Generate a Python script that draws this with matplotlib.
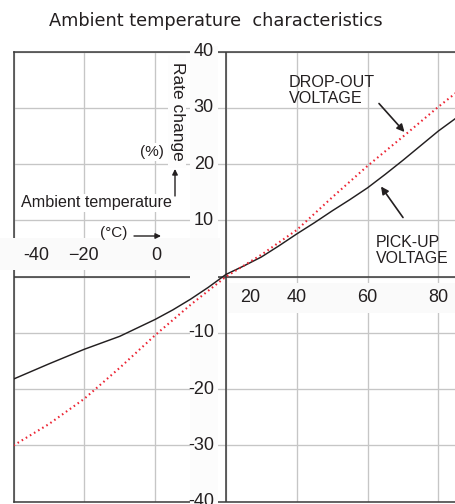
import matplotlib
matplotlib.use("Agg")
import matplotlib.pyplot as plt
from matplotlib.patches import Rectangle

# ---- data ----
temps_pickup = [-40, -30, -20, -10, -5, 0, 5, 10, 15, 20, 25, 30, 35, 40, 45, 50, 55, 60, 65, 70, 75, 80, 85]
pickup = [-18.2, -15.5, -12.9, -10.6, -9.1, -7.6, -5.9, -4.0, -1.9, 0.4, 1.9, 3.5, 5.5, 7.6,
          9.6, 11.7, 13.7, 15.8, 18.2, 20.7, 23.3, 25.9, 28.2]
temps_dropout = [-40, -30, -20, -10, 0, 10, 20, 30, 40, 50, 60, 70, 80, 85]
dropout = [-30.0, -26.2, -21.7, -16.2, -10.4, -5.0, 0.0, 3.9, 8.3, 14.1, 19.7, 24.9, 30.2, 32.7]

x_ticks = [-40, -20, 0, 20, 40, 60, 80]
x_tick_labels = ["-40", "\u221220", "0", "20", "40", "60", "80"]
y_ticks = [40, 30, 20, 10, 0, -10, -20, -30, -40]
y_tick_labels = ["40", "30", "20", "10", "", "-10", "-20", "-30", "-40"]

title = "Ambient temperature  characteristics"
pickup_label = "PICK-UP\nVOLTAGE"
dropout_label = "DROP-OUT\nVOLTAGE"
x_axis_label = "Ambient temperature"
x_unit = "(\u00b0C)"
y_axis_label = "Rate change"
y_unit = "(%)"

# ---- layout ----
W, H = 455, 504
FONT = "Liberation Sans"
TXT = "#231f20"
AXC = "#3a3a3a"
GRID = "#c6c6c6"
BAND = "#fafafa"
PX2PT = 72 / 100.0

fig = plt.figure(figsize=(W / 100, H / 100), dpi=100)
fig.patch.set_facecolor("white")


def F(x, y):
    return (x / W, 1 - y / H)


ax = fig.add_axes([13.5 / W, 1 - 501.7 / H, (W - 13.5) / W, 450 / H])
ax.set_xlim(-40, 84.7)
ax.set_ylim(-40, 40)
ax.set_xticks(x_ticks)
ax.set_yticks(y_ticks)
ax.tick_params(length=0, labelbottom=False, labelleft=False)
ax.grid(True, color=GRID, lw=0.95)
ax.set_axisbelow(True)
for s in ["left", "top", "bottom"]:
    ax.spines[s].set_color(AXC)
    ax.spines[s].set_linewidth(1.1)
ax.spines["right"].set_visible(False)

ax.axhline(0, color=AXC, lw=1.1, zorder=2)
ax.axvline(20, color=AXC, lw=1.1, zorder=2)


# background bands behind labels (cover grid and frame)
def band(x0, y0, x1, y1, color=BAND):
    r = Rectangle(F(x0, y1), (x1 - x0) / W, (y1 - y0) / H, transform=fig.transFigure,
                  facecolor=color, edgecolor="none", zorder=2.7, clip_on=False)
    ax.add_artist(r)


band(190, 46, 218, 504, "#fcfcfc")
band(0, 238, 220, 270)
band(228, 283, 455, 313)
band(168, 55, 186, 168, "#fdfdfd")

# curves
ax.plot(temps_pickup, pickup, color="#231f20", lw=1.05, zorder=3,
        solid_capstyle="round", solid_joinstyle="round")
ax.plot(temps_dropout, dropout, color="#ec2332", lw=1.5, zorder=3,
        linestyle=(0, (0.75, 1.55)), dash_capstyle="butt")

# y tick labels
for v, lab in zip(y_ticks, y_tick_labels):
    if not lab:
        continue
    ax.annotate(lab, xy=(20, v), xycoords="data", xytext=(-12 * PX2PT, 0),
                textcoords="offset points", ha="right", va="center",
                fontsize=13, family=FONT, color=TXT, zorder=4, annotation_clip=False)

# x tick labels
x_label_dx = {-40: 22.5, 20: 24.0, -20: -1.0, 0: 1.0}
for v, lab in zip(x_ticks, x_tick_labels):
    dx = x_label_dx.get(v, 0.0) * PX2PT
    dy = (21.7 if v < 20 else -20.3) * PX2PT
    ax.annotate(lab, xy=(v, 0), xycoords="data", xytext=(dx, dy),
                textcoords="offset points", ha="center", va="center",
                fontsize=13, family=FONT, color=TXT, zorder=4, annotation_clip=False)

# title
fig.text(*F(216, 21), title, ha="center", va="center", fontsize=12.8,
         family="DejaVu Sans", color=TXT)

# axis captions
fig.text(*F(178, 111), y_axis_label, rotation=-90, ha="center", va="center",
         fontsize=12.5, family=FONT, color=TXT)
fig.text(*F(151.5, 152), y_unit, ha="center", va="center", fontsize=11,
         family=FONT, color=TXT,
         bbox=dict(boxstyle="square,pad=0.1", fc="white", ec="none"))
fig.text(*F(20.7, 203), x_axis_label, ha="left", va="center", fontsize=11.6,
         family=FONT, color=TXT,
         bbox=dict(boxstyle="square,pad=0.1", fc="white", ec="none"))
fig.text(*F(114, 233), x_unit, ha="center", va="center", fontsize=11,
         family=FONT, color=TXT)

arrow_kw = dict(arrowstyle="-|>", lw=1.0, color=TXT, mutation_scale=8,
                shrinkA=0, shrinkB=0)
ax.annotate("", xy=F(175, 169), xycoords="figure fraction",
            xytext=F(175, 196), textcoords="figure fraction",
            arrowprops=arrow_kw, annotation_clip=False)
ax.annotate("", xy=F(161, 236), xycoords="figure fraction",
            xytext=F(134, 236), textcoords="figure fraction",
            arrowprops=arrow_kw, annotation_clip=False)

# series labels with arrows
fig.text(*F(289, 75), dropout_label, ha="left", va="top", fontsize=11.6,
         family=FONT, color=TXT, linespacing=1.05)
fig.text(*F(375.7, 235), pickup_label, ha="left", va="top", fontsize=11.4,
         family=FONT, color=TXT, linespacing=1.05)

arrow_kw2 = dict(arrowstyle="-|>", lw=1.2, color=TXT, mutation_scale=11,
                 shrinkA=0, shrinkB=0)
ax.annotate("", xy=F(404.5, 132), xycoords="figure fraction",
            xytext=F(379, 103.5), textcoords="figure fraction",
            arrowprops=arrow_kw2, annotation_clip=False)
ax.annotate("", xy=F(381, 186.5), xycoords="figure fraction",
            xytext=F(403, 217.5), textcoords="figure fraction",
            arrowprops=arrow_kw2, annotation_clip=False)

fig.savefig("out.png", dpi=100, facecolor="white")
